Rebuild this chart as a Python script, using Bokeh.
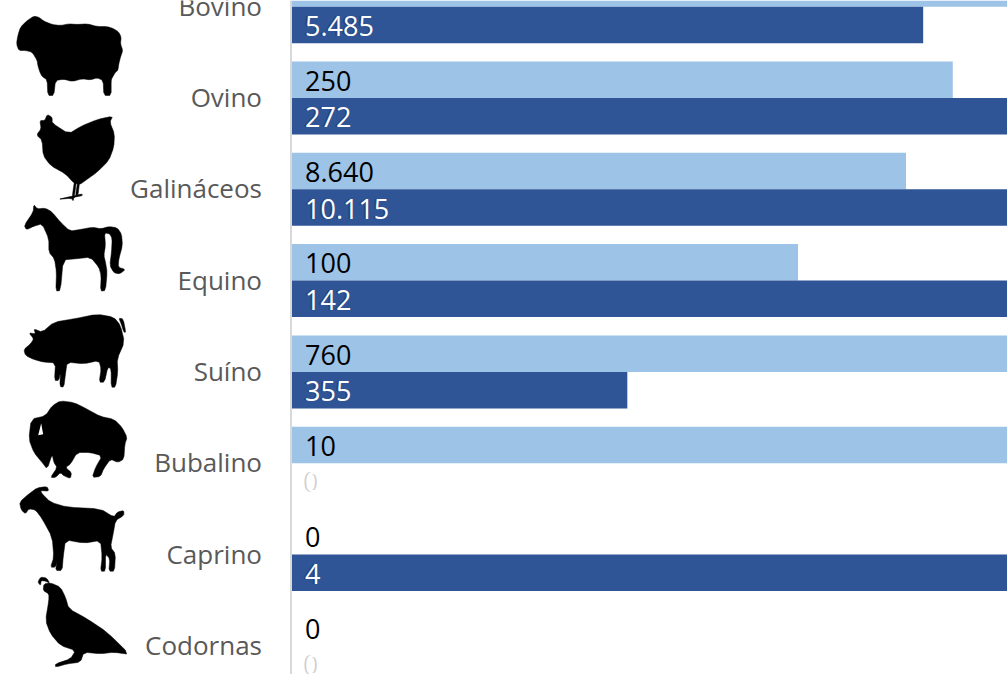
from bokeh.core.properties import value
from bokeh.embed import file_html
from bokeh.models import ColumnDataSource, Range1d, Span
from bokeh.plotting import figure
from bokeh.resources import INLINE

categories = ["Bovino", "Ovino", "Galináceos", "Equino", "Suíno", "Bubalino", "Caprino", "Codornas"]
light_values = [6247, 250, 8640, 100, 760, 10, 0, 0]
dark_values = [5485, 272, 10115, 142, 355, 0, 4, 0]
light_labels = ["", "250", "8.640", "100", "760", "10", "0", "0"]
dark_labels = ["5.485", "272", "10.115", "142", "355", "0", "4", "0"]

LIGHT = "#9DC3E6"
DARK = "#2F5597"
FONT = "Open Sans"


def share(v, other):
    top = max(v, other)
    return v / top if top else 0


rows = list(range(len(categories)))
src_cat = ColumnDataSource(dict(y=rows, t=categories))
src_light = ColumnDataSource(dict(
    y=[r - 0.2 for r in rows],
    w=[share(a, b) for a, b in zip(light_values, dark_values)],
    t=light_labels,
))
src_dark = ColumnDataSource(dict(
    y=[r + 0.2 for r in rows],
    w=[share(b, a) for a, b in zip(light_values, dark_values)],
    t=dark_labels,
))

p = figure(
    width=1007, height=674, output_backend="svg", toolbar_location=None,
    x_axis_location=None, y_axis_location=None,
    x_range=Range1d(-290.5 / 720, 716.5 / 720),
    y_range=Range1d((674 - 6.2) / 91.3, -6.2 / 91.3),
    min_border=0, outline_line_color=None, background_fill_color="white",
)
p.grid.visible = False

p.hbar(y="y", left=0, right="w", height=0.4, color=LIGHT, line_color=None, source=src_light)
p.hbar(y="y", left=0, right="w", height=0.4, color=DARK, line_color=None, source=src_dark)

p.add_layout(Span(location=0, dimension="height", line_color="#D9D9D9", line_width=2))

p.text(source=src_cat, x=0, y="y", text="t", x_offset=-29, y_offset=-1,
       text_font=value(FONT), text_font_size="26px", text_color="#595959",
       text_baseline="middle", text_align="right")

txt = dict(x=0, y="y", text="t", y_offset=1, text_font=value(FONT), text_font_size="27px",
           text_baseline="middle", text_align="left")
p.text(source=src_light, x_offset=14, text_color="black", **txt)
p.text(source=src_dark, x_offset=12, text_color="black", text_alpha=0.2, **txt)
p.text(source=src_dark, x_offset=14, text_color="white", **txt)

# decorative silhouettes, outlines traced at 3x with an offset
p.extra_x_ranges["px"] = Range1d(0, 1007)
p.extra_y_ranges["px"] = Range1d(674, 0)

icons = [
    # sheep
    (0, 0, [(48,130),(52,105),(60,80),(80,60),(100,47),(115,50),(130,62),(155,72),(180,75),(205,70),(230,72),
            (260,70),(290,78),(320,78),(340,85),(355,95),(362,110),(360,130),(367,150),(360,170),(355,190),
            (352,210),(345,215),(335,232),(332,240),(332,285),(310,285),(308,240),(290,232),(270,238),
            (245,235),(215,243),(190,236),(165,240),(160,285),(142,285),(140,238),(125,228),(118,215),
            (112,195),(110,180),(95,155),(75,150),(55,150)]),
    # hen
    (0, 0, [(140,342),(155,350),(155,368),(205,400),(240,378),(290,357),(337,347),(328,365),(342,400),
            (340,440),(325,480),(290,515),(255,540),(238,552),(220,548),(195,520),(150,495),(128,465),
            (125,420),(108,403),(122,385),(118,360),(133,360)]),
    (0, 0, [(215,590),(222,540),(228,540),(221,592)]),
    (0, 0, [(225,585),(232,540),(238,540),(232,588)]),
    (0, 0, [(170,597),(215,587),(245,580),(245,586),(220,590),(218,602),(213,593)]),
    # horse
    (10, 195, [(70,27),(80,40),(105,38),(125,50),(150,80),(178,107),(210,102),(245,95),(272,100),(295,93),
               (320,97),(333,115),(336,150),(325,190),(323,215),(345,222),(328,235),(310,232),(298,210),
               (303,170),(305,130),(298,115),(282,112),(285,150),(280,180),(285,200),(290,230),(285,285),
               (270,287),(272,240),(265,215),(240,185),(195,190),(158,193),(150,285),(136,287),(138,230),
               (132,190),(115,170),(115,130),(95,85),(70,92),(48,103),(41,90),(68,50)]),
    # pig
    (0, 225, [(70,372),(90,355),(100,340),(85,322),(105,325),(100,310),(125,320),(160,290),(220,280),(290,266),
              (340,275),(360,300),(372,350),(350,400),(352,440),(345,485),(332,485),(332,430),(322,425),
              (312,470),(296,470),(302,430),(295,405),(250,415),(200,410),(195,445),(190,485),(178,483),
              (180,440),(175,465),(162,465),(165,412),(130,410),(100,402),(75,390)]),
    (0, 225, [(355,278),(368,280),(376,320),(370,320),(362,295)]),
    # bison
    (10, 392, [(150,25),(190,30),(230,50),(270,72),(310,80),(335,105),(350,135),(343,155),(340,200),(322,210),
               (300,200),(280,228),(270,252),(245,255),(255,225),(275,190),(240,180),(200,180),(180,215),
               (165,225),(183,240),(180,258),(160,250),(150,240),(135,255),(120,255),(140,225),(130,210),
               (125,185),(110,230),(95,210),(70,180),(55,140),(62,80),(105,70),(125,40)]),
    # goat
    (0, 450, [(57,155),(85,130),(110,112),(140,108),(145,122),(120,120),(125,130),(150,155),(200,170),(300,175),
              (340,200),(350,185),(370,180),(370,195),(345,210),(338,250),(330,290),(345,310),(342,362),
              (325,362),(328,325),(315,310),(315,362),(300,362),(305,320),(300,270),(250,278),(195,268),
              (188,320),(185,360),(165,360),(170,330),(165,350),(150,350),(160,320),(155,260),(125,205),
              (105,178),(85,175),(75,190),(62,178)]),
    # quail
    (0, 450, [(128,420),(130,400),(150,397),(180,410),(195,440),(205,475),(260,505),(320,545),(388,612),
              (340,605),(300,610),(250,605),(240,635),(200,640),(165,650),(165,640),(210,625),(225,600),
              (180,585),(150,550),(135,510),(145,450),(145,430)]),
    (0, 450, [(112,395),(120,380),(138,382),(148,398),(135,392),(122,390),(120,405)]),
]


def soften(pts, cut=0.2):
    out = []
    n = len(pts)
    for i in range(n):
        (x0, y0), (x1, y1) = pts[i], pts[(i + 1) % n]
        out.append((x0 + cut * (x1 - x0), y0 + cut * (y1 - y0)))
        out.append((x1 - cut * (x1 - x0), y1 - cut * (y1 - y0)))
    return out


xs = [[ox + x / 3 for x, _ in soften(pts)] for ox, oy, pts in icons]
ys = [[oy + y / 3 for _, y in soften(pts)] for ox, oy, pts in icons]
p.patches(xs, ys, color="black", line_color="black", line_width=0.5,
          x_range_name="px", y_range_name="px")
# light notch in the bison's neck
hole = [(92,92),(98,125),(83,128)]
p.patch([10 + x / 3 for x, _ in hole], [392 + y / 3 for _, y in hole], color="white",
        line_color=None, x_range_name="px", y_range_name="px")

open("out.html", "w").write(file_html(p, INLINE))
